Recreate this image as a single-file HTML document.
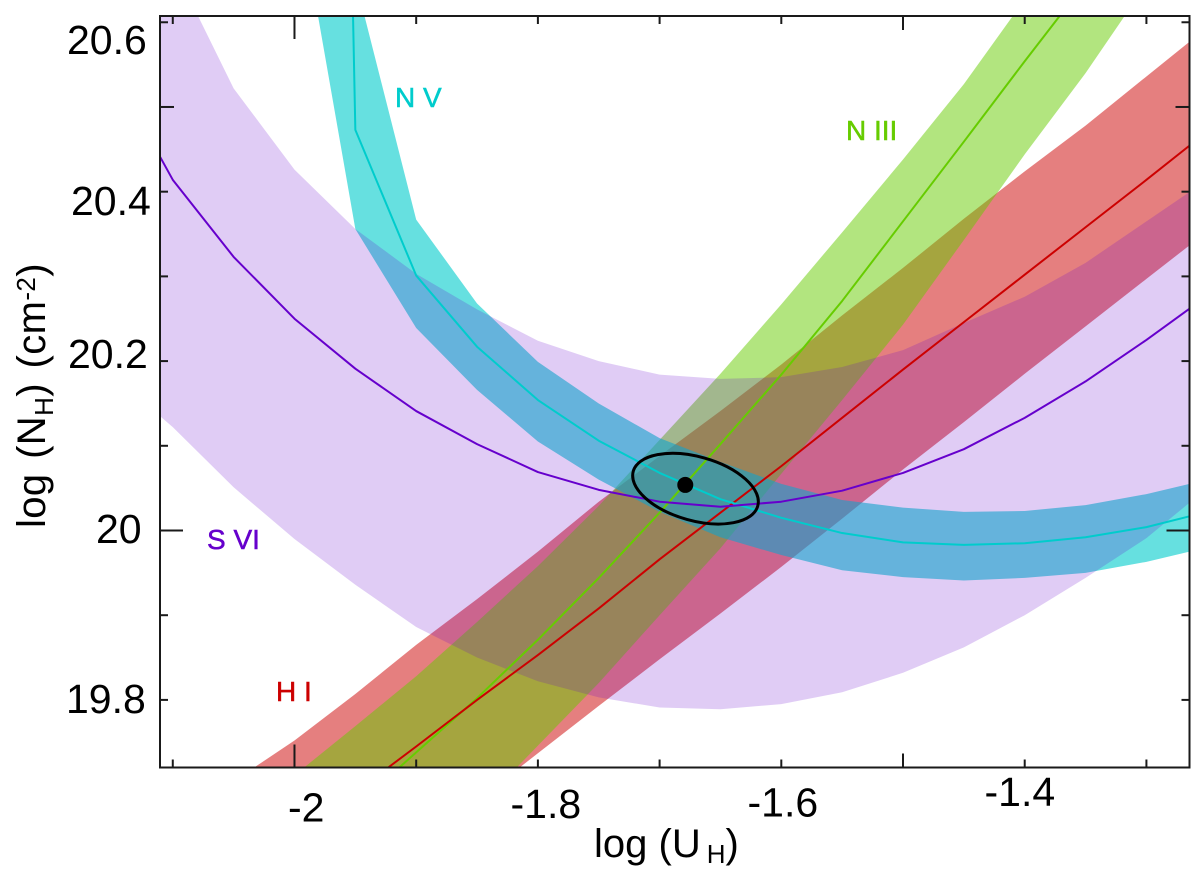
<!DOCTYPE html>
<html lang="en">
<head>
<meta charset="utf-8">
<title>Ionization parameter versus hydrogen column density</title>
<style>
html,body{margin:0;padding:0;background:#fff;width:1200px;height:876px;overflow:hidden}
svg{display:block}
text{font-family:"Liberation Sans",Arial,sans-serif;fill:#000}
.tick-label{font-size:41px}
.axis-title{font-size:40px}
.ion-label{font-size:28px;stroke-width:0.5px}
</style>
</head>
<body>
<svg id="chart" width="1200" height="876" viewBox="0 0 1200 876" xmlns="http://www.w3.org/2000/svg">
  <g id="bands"></g>
  <g id="lines"></g>
  <g id="ticks"></g>
  <rect x="160" y="16" width="1029.5" height="751.5" fill="none" stroke="#1a1a1a" stroke-width="2"></rect>

  <text class="tick-label" x="67" y="54">20.6</text>
  <text class="tick-label" x="71" y="215">20.4</text>
  <text class="tick-label" x="68" y="368">20.2</text>
  <text class="tick-label" x="96" y="543">20</text>
  <text class="tick-label" x="66" y="713">19.8</text>

  <text class="tick-label" x="288" y="821.5">-2</text>
  <text class="tick-label" x="510.5" y="818">-1.8</text>
  <text class="tick-label" x="747.5" y="816.5">-1.6</text>
  <text class="tick-label" x="984.5" y="806">-1.4</text>

  <text class="axis-title" x="594" y="857">log (U<tspan font-size="26" dx="6" dy="6">H</tspan><tspan dy="-6">)</tspan></text>
  <text class="axis-title" transform="translate(45,528) rotate(-90)" style="word-spacing:3px;letter-spacing:0.4px">log (N<tspan font-size="26" dy="8">H</tspan><tspan dy="-8">) (cm</tspan><tspan font-size="26" dy="-10">-2</tspan><tspan dy="10">)</tspan></text>

  <text class="ion-label" x="395" y="107" style="fill:#00cccc;stroke:#00cccc">N V</text>
  <text class="ion-label" x="846" y="140" style="fill:#66cc00;stroke:#66cc00">N III</text>
  <text class="ion-label" x="207" y="549" style="fill:#6600cc;stroke:#6600cc">S VI</text>
  <text class="ion-label" x="276" y="701" style="fill:#cc0000;stroke:#cc0000">H I</text>
</svg>
<script>
const logU = [-2.15,-2.1,-2.05,-2,-1.95,-1.9,-1.85,-1.8,-1.75,-1.7,-1.65,-1.6,-1.55,-1.5,-1.45,-1.4,-1.35,-1.3,-1.25];
const nvBandU = [-2,-1.95,-1.9,-1.85,-1.8,-1.75,-1.7,-1.65,-1.6,-1.55,-1.5,-1.45,-1.4,-1.35,-1.3,-1.25];
const nvLineU = [-1.9525,-1.95,-1.9,-1.85,-1.8,-1.75,-1.7,-1.65,-1.6,-1.55,-1.5,-1.45,-1.4,-1.35,-1.3,-1.25];

const hiUpper = [19.587,19.646,19.704,19.752,19.807,19.865,19.919,19.975,20.034,20.088,20.141,20.196,20.254,20.310,20.368,20.424,20.478,20.536,20.594];
const hiLower = [19.346,19.401,19.457,19.514,19.569,19.625,19.681,19.737,19.793,19.848,19.902,19.957,20.014,20.072,20.128,20.185,20.241,20.297,20.353];
const hiLine = [19.473,19.528,19.582,19.637,19.691,19.745,19.800,19.853,19.908,19.966,20.021,20.076,20.133,20.190,20.246,20.302,20.358,20.414,20.471];

const niiiUpper = [19.534,19.593,19.652,19.711,19.769,19.828,19.892,19.958,20.029,20.107,20.185,20.267,20.352,20.438,20.527,20.627,20.728,20.828,20.928];
const niiiLower = [19.273,19.339,19.403,19.469,19.534,19.601,19.672,19.746,19.820,19.900,19.979,20.067,20.154,20.243,20.343,20.444,20.540,20.645,20.757];
const niiiLine = [19.414,19.479,19.544,19.609,19.674,19.738,19.802,19.871,19.944,20.021,20.102,20.184,20.271,20.365,20.459,20.554,20.647,20.742,20.836];

const nvUpper = [21.006,20.650,20.367,20.268,20.199,20.150,20.109,20.081,20.055,20.036,20.027,20.022,20.023,20.030,20.043,20.060];
const nvLower = [20.766,20.356,20.239,20.166,20.105,20.060,20.022,19.992,19.971,19.953,19.945,19.941,19.944,19.950,19.963,19.980];
const nvLine = [20.650,20.473,20.301,20.217,20.154,20.106,20.068,20.037,20.015,19.997,19.986,19.983,19.985,19.992,20.004,20.022];

const sviUpper = [20.816,20.668,20.522,20.426,20.356,20.303,20.261,20.224,20.200,20.184,20.179,20.181,20.193,20.213,20.245,20.276,20.316,20.365,20.414];
const sviLower = [20.184,20.122,20.051,19.990,19.936,19.886,19.850,19.822,19.803,19.791,19.789,19.795,19.809,19.832,19.862,19.900,19.944,19.991,20.050];
const sviLine = [20.544,20.414,20.323,20.250,20.191,20.141,20.102,20.069,20.048,20.034,20.028,20.034,20.047,20.068,20.096,20.133,20.176,20.225,20.277];

const bestFitU = [-1.6789];
const bestFitN = [20.0538];
const contourCenterU = [-1.6705];
const contourCenterN = [20.0494];
const contourSemiMajorU = [0.0531];
const contourSemiMinorN = [0.0377];

const xTickValues = [-2.1,-2,-1.9,-1.8,-1.7,-1.6,-1.5,-1.4,-1.3];
const yTickValues = [19.8,19.9,20,20.1,20.2,20.3,20.4,20.5,20.6];

const xDomainMin = -2.1105;
const xDomainMax = -1.2646;
const yDomainMin = 19.7202;
const yDomainMax = 20.6074;

const plotLeft = 160;
const plotRight = 1189.5;
const plotTop = 16;
const plotBottom = 767.5;

function xScale(u){ return plotLeft + (u - xDomainMin) / (xDomainMax - xDomainMin) * (plotRight - plotLeft); }
function yScale(n){ return plotBottom - (n - yDomainMin) / (yDomainMax - yDomainMin) * (plotBottom - plotTop); }

const SVG_NS = 'http://www.w3.org/2000/svg';
const bandLayer = document.getElementById('bands');
const lineLayer = document.getElementById('lines');
const tickLayer = document.getElementById('ticks');

function pixelPoints(us, ns){
  return us.map(function(u, i){ return [xScale(u), yScale(ns[i])]; });
}
function clipEdge(pts, inside, cross){
  const out = [];
  for(let i = 0; i < pts.length; i++){
    const a = pts[i];
    const b = pts[(i + 1) % pts.length];
    const ai = inside(a);
    const bi = inside(b);
    if(ai){ out.push(a); }
    if(ai !== bi){ out.push(cross(a, b)); }
  }
  return out;
}
function atX(x){ return function(a, b){ return [x, a[1] + (b[1] - a[1]) * (x - a[0]) / (b[0] - a[0])]; }; }
function atY(y){ return function(a, b){ return [a[0] + (b[0] - a[0]) * (y - a[1]) / (b[1] - a[1]), y]; }; }
function clipPolygon(pts){
  let p = pts;
  p = clipEdge(p, function(q){ return q[0] >= plotLeft; }, atX(plotLeft));
  p = clipEdge(p, function(q){ return q[0] <= plotRight; }, atX(plotRight));
  p = clipEdge(p, function(q){ return q[1] >= plotTop; }, atY(plotTop));
  p = clipEdge(p, function(q){ return q[1] <= plotBottom; }, atY(plotBottom));
  return p;
}
function clipSegment(a, b){
  let t0 = 0, t1 = 1;
  const dx = b[0] - a[0], dy = b[1] - a[1];
  const tests = [[-dx, a[0] - plotLeft], [dx, plotRight - a[0]], [-dy, a[1] - plotTop], [dy, plotBottom - a[1]]];
  for(let i = 0; i < tests.length; i++){
    const p = tests[i][0], q = tests[i][1];
    if(p === 0){ if(q < 0){ return null; } continue; }
    const r = q / p;
    if(p < 0){ if(r > t1){ return null; } if(r > t0){ t0 = r; } }
    else { if(r < t0){ return null; } if(r < t1){ t1 = r; } }
  }
  return [[a[0] + t0 * dx, a[1] + t0 * dy], [a[0] + t1 * dx, a[1] + t1 * dy]];
}
function clipPolyline(pts){
  const out = [];
  for(let i = 0; i < pts.length - 1; i++){
    const seg = clipSegment(pts[i], pts[i + 1]);
    if(seg){
      if(out.length === 0){ out.push(seg[0]); }
      out.push(seg[1]);
    }
  }
  return out;
}
function toAttr(pts){
  return pts.map(function(q){ return q[0].toFixed(2) + ',' + q[1].toFixed(2); }).join(' ');
}
function makeBand(us, upper, lower, color, opacity){
  const el = document.createElementNS(SVG_NS, 'polygon');
  const ring = pixelPoints(us, upper).concat(pixelPoints(us, lower).reverse());
  el.setAttribute('points', toAttr(clipPolygon(ring)));
  el.setAttribute('fill', color);
  el.setAttribute('fill-opacity', opacity);
  bandLayer.appendChild(el);
  return el;
}
function makeLine(us, ns, color){
  const el = document.createElementNS(SVG_NS, 'polyline');
  el.setAttribute('points', toAttr(clipPolyline(pixelPoints(us, ns))));
  el.setAttribute('fill', 'none');
  el.setAttribute('stroke', color);
  el.setAttribute('stroke-width', '2');
  el.setAttribute('stroke-linejoin', 'round');
  lineLayer.appendChild(el);
  return el;
}
function makeTick(x1, y1, x2, y2){
  const el = document.createElementNS(SVG_NS, 'line');
  el.setAttribute('x1', x1);
  el.setAttribute('y1', y1);
  el.setAttribute('x2', x2);
  el.setAttribute('y2', y2);
  el.setAttribute('stroke', '#1a1a1a');
  el.setAttribute('stroke-width', '2');
  tickLayer.appendChild(el);
  return el;
}

const bandHi = makeBand(logU, hiUpper, hiLower, '#cc0000', 0.5);


const bandNiii = makeBand(logU, niiiUpper, niiiLower, '#66cc00', 0.5);


const bandNv = makeBand(nvBandU, nvUpper, nvLower, '#00cccc', 0.6);


const bandSvi = makeBand(logU, sviUpper, sviLower, '#6600cc', 0.2);



const lineNiii = makeLine(logU, niiiLine, '#66cc00');


const lineHi = makeLine(logU, hiLine, '#cc0000');


const lineNv = makeLine(nvLineU, nvLine, '#00cccc');


const lineSvi = makeLine(logU, sviLine, '#6600cc');



const cx = xScale(contourCenterU[0]);
const cy = yScale(contourCenterN[0]);
const contour = document.createElementNS(SVG_NS, 'ellipse');
contour.setAttribute('cx', cx);
contour.setAttribute('cy', cy);
contour.setAttribute('rx', xScale(contourCenterU[0] + contourSemiMajorU[0]) - cx);
contour.setAttribute('ry', cy - yScale(contourCenterN[0] + contourSemiMinorN[0]));
contour.setAttribute('transform', 'rotate(15.6 ' + cx + ' ' + cy + ')');
contour.setAttribute('fill', 'none');
contour.setAttribute('stroke', '#000');
contour.setAttribute('stroke-width', '3');


lineLayer.appendChild(contour);

const bestFit = document.createElementNS(SVG_NS, 'circle');
bestFit.setAttribute('cx', xScale(bestFitU[0]));
bestFit.setAttribute('cy', yScale(bestFitN[0]));
bestFit.setAttribute('r', '8');
bestFit.setAttribute('fill', '#000');


lineLayer.appendChild(bestFit);

xTickValues.forEach(function(v){
  const px = xScale(v);
  const len = Math.abs(v + 2) < 1e-6 ? 23 : (Math.abs(v + 1.5) < 1e-6 ? 14 : 8);
  const bottomTick = makeTick(px, plotBottom, px, plotBottom - len);
  
  
  const topTick = makeTick(px, plotTop, px, plotTop + len);
  
  
});
yTickValues.forEach(function(v){
  const py = yScale(v);
  const len = Math.abs(v - 20) < 1e-6 ? 23 : (Math.abs(v - 20.5) < 1e-6 ? 14 : 8);
  const leftTick = makeTick(plotLeft, py, plotLeft + len, py);
  
  
  const rightTick = makeTick(plotRight, py, plotRight - len, py);
  
  
});
</script>
</body>
</html>
